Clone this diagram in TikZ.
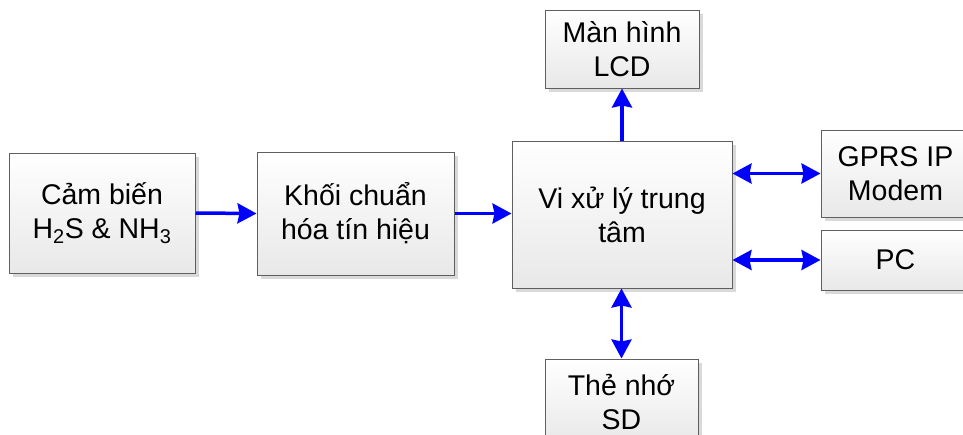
\documentclass[tikz,border=0pt]{standalone}
\usepackage{fontspec}
\setmainfont{Liberation Sans}
\usetikzlibrary{arrows.meta,shadows}
\definecolor{edgegray}{RGB}{95,95,95}
\definecolor{arrowblue}{RGB}{0,0,255}
\begin{document}
\begin{tikzpicture}[x=1pt,y=-1pt,
  blk/.style={draw=edgegray,line width=1pt,rectangle,inner sep=0pt,align=center,
    top color=white,bottom color=black!9,
    drop shadow={shadow xshift=4pt,shadow yshift=-4pt,fill=black!15,opacity=1},
    font=\fontsize{28.5}{34}\selectfont},
  conn/.style={draw=arrowblue,line width=3.5pt},
  tip/.tip={Stealth[length=19pt,width=20pt,inset=2pt]}
]
\useasboundingbox (0,0) rectangle (963,434);
\begin{scope}
\clip (0,0) rectangle (963,434);
\node[blk,minimum width=186pt,minimum height=120pt] (sen) at (102,213) {Cảm biến\\H\textsubscript{2}S \& NH\textsubscript{3}};
\node[blk,minimum width=197pt,minimum height=123pt] (nor) at (355.5,213.5) {Khối chuẩn\\hóa tín hiệu};
\node[blk,minimum width=220pt,minimum height=147pt] (cpu) at (622,214.5) {Vi xử lý trung\\tâm};
\node[blk,minimum width=154pt,minimum height=78pt] (lcd) at (622,49) {Màn hình\\LCD};
\node[blk,minimum width=149pt,minimum height=87pt] (gprs) at (895.5,173.5) {GPRS IP\\Modem};
\node[blk,minimum width=149pt,minimum height=60pt] (pc) at (895.5,260) {PC};
\node[blk,minimum width=153pt,minimum height=86pt] (sd) at (621.5,402) {Thẻ nhớ\\SD};
\draw[conn,-tip] (sen.east) -- (nor.west);
\draw[conn,-tip] (nor.east) -- (cpu.west |- nor.east);
\draw[conn,-tip] (cpu.north) -- (lcd.south);
\draw[conn,tip-tip] (cpu.east |- gprs.west) -- (gprs.west);
\draw[conn,tip-tip] (cpu.east |- pc.west) -- (pc.west);
\draw[conn,tip-tip] (cpu.south -| sd.north) -- (sd.north);
\end{scope}
\end{tikzpicture}
\end{document}
